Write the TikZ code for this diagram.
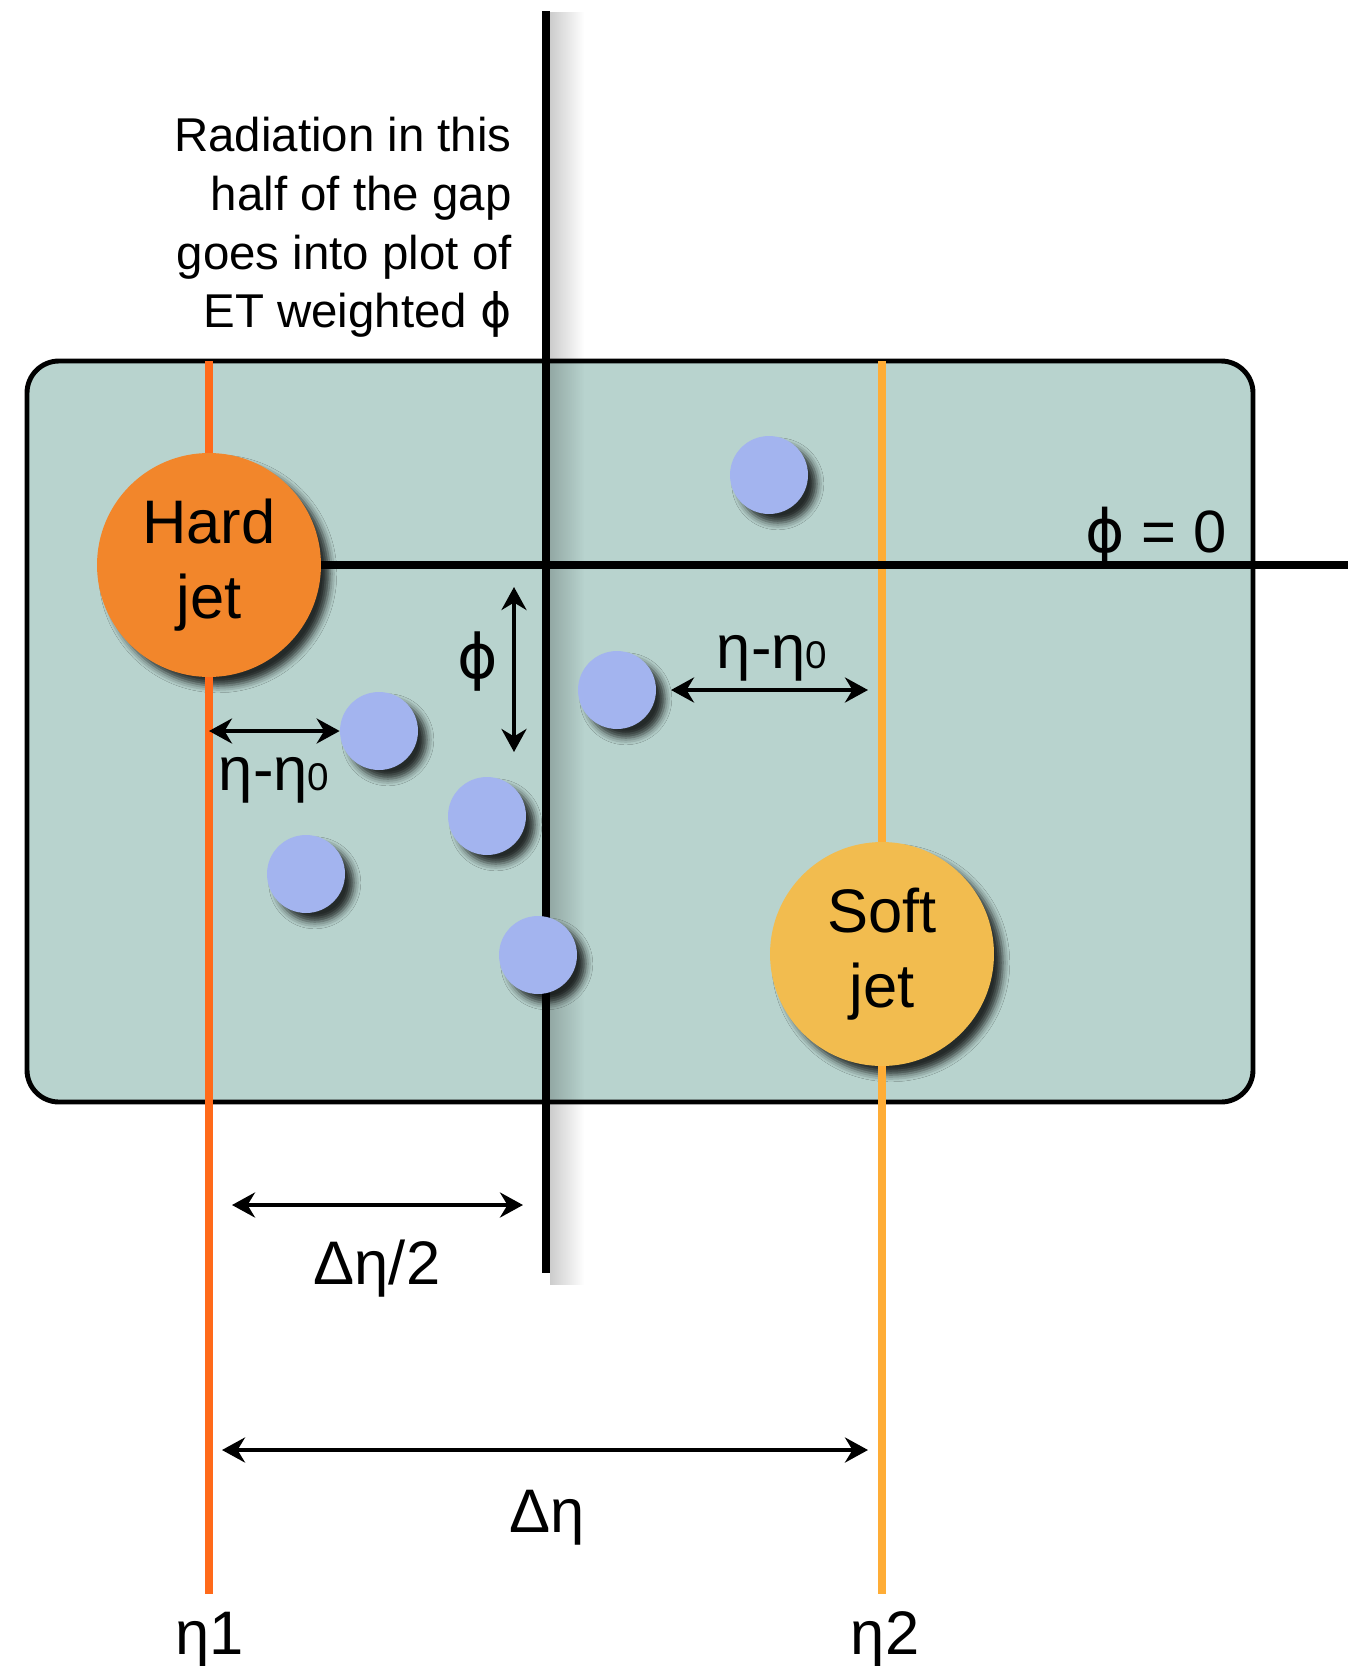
\documentclass[tikz,border=0pt]{standalone}
\usepackage{fontspec}
\setmainfont{Liberation Sans}
\newfontfamily\phifont{DejaVu Sans}
\usetikzlibrary{arrows.meta, positioning, shadows.blur, fadings}
\definecolor{gapTeal}{HTML}{B8D3CE}
\definecolor{hardOrange}{HTML}{F2862B}
\definecolor{hardLine}{HTML}{FF6A1A}
\definecolor{softYellow}{HTML}{F2BC4F}
\definecolor{softLine}{HTML}{FFAD36}
\definecolor{dotBlue}{HTML}{A3B4EF}
\tikzset{
  dim/.style={{Stealth[length=4.6mm,width=5mm]}-{Stealth[length=4.6mm,width=5mm]}, line width=2.8pt, draw=black},
  gapline/.style={line width=4.4pt, draw=black},
  hardline/.style={line width=4.3pt, draw=hardLine},
  softline/.style={line width=4.3pt, draw=softLine},
  jetshadow/.style={blur shadow={shadow xshift=5pt, shadow yshift=-5pt, shadow blur radius=4pt, shadow opacity=80}},
  jet/.style={
    circle,
    minimum size=4.48cm,
    inner sep=0pt,
    align=center,
    jetshadow,
    font=\fontsize{35}{43}\selectfont
  },
  dot/.style={
    circle,
    minimum size=1.56cm,
    inner sep=0pt,
    fill=dotBlue,
    jetshadow
  },
  dimlabel/.style={inner sep=0pt, font=\fontsize{35}{40}\selectfont}
}
\newcommand{\etasub}{\fontsize{22}{22}\selectfont 0}
\newcommand{\phisym}{{\phifont ϕ}}

\begin{document}
\begin{tikzpicture}[x=0.02cm, y=-0.02cm]
\useasboundingbox (0,0) rectangle (1348,1666);

% gap region
\filldraw[fill=gapTeal, draw=black, line width=2.8pt, rounded corners=0.64cm] (27,361) rectangle (1253,1102);

% coordinates of the line ends
\coordinate (gaptop) at (546,11);
\coordinate (gapbot) at (546,1273);
\coordinate (etaonetop) at (209,361);
\coordinate (etaonebot) at (209,1594);
\coordinate (etatwotop) at (882,361);
\coordinate (etatwobot) at (882,1594);
\coordinate (phiend) at (1348,565);

% shadow of the half-gap line
\fill[black, opacity=0.2, path fading=east] (550,11) rectangle (584,1285);
\draw[gapline] (gaptop) -- (gapbot);

% jets and radiation
\node[jet, fill=hardOrange] (hard) at (209,565) {Hard\\jet};
\node[jet, fill=softYellow] (soft) at (882,954) {Soft\\jet};

\draw[hardline] (etaonetop) -- (hard);
\draw[hardline] (hard) -- (etaonebot);
\draw[softline] (etatwotop) -- (soft);
\draw[softline] (soft) -- (etatwobot);
\draw[gapline] (hard) -- (phiend);

\node[dot] (d1) at (769,475) {};
\node[dot] (d2) at (617,690) {};
\node[dot] (d3) at (379,731) {};
\node[dot] (d4) at (487,816) {};
\node[dot] (d5) at (306,874) {};
\node[dot] (d6) at (538,955) {};

% dimension arrows
\coordinate (phitop) at (514,587);
\coordinate (phibot) at (514,752);
\coordinate (leftstart) at (209,731);
\coordinate (rightstart) at (671,690);
\coordinate (rightend) at (868,690);
\coordinate (halfstart) at (232,1205);
\coordinate (halfend) at (523,1205);
\coordinate (fullstart) at (222,1450);
\coordinate (fullend) at (868,1450);

\draw[dim] (phitop) -- (phibot);
\draw[dim] (leftstart) -- (d3.west);
\draw[dim] (rightstart) -- (rightend);
\draw[dim] (halfstart) -- (halfend);
\draw[dim] (fullstart) -- (fullend);

% labels
\node[dimlabel] (philab) at (478,662) {\phisym};
\node[dimlabel, anchor=base] (rightlab) at (772,668) {η-η\etasub};
\node[dimlabel, anchor=base] (leftlab) at (274,790) {η-η\etasub};
\node[dimlabel, anchor=base] (halflab) at (377,1284) {Δη/2};
\node[dimlabel, anchor=base] (fulllab) at (547,1532) {Δη};
\node[dimlabel, anchor=base] (etaonelab) at (210,1654) {η1};
\node[dimlabel, anchor=base] (etatwolab) at (885,1654) {η2};
\node[dimlabel, anchor=base east, font=\fontsize{34}{40}\selectfont] (phizero) at (1227,552) {\phisym{} = 0};

\node[anchor=north east, inner sep=0pt, align=right, font=\fontsize{27}{33.4}\selectfont] (note) at (512,117)
  {Radiation in this\\ half of the gap\\ goes into plot of\\ ET weighted \phisym};

\end{tikzpicture}
\end{document}
